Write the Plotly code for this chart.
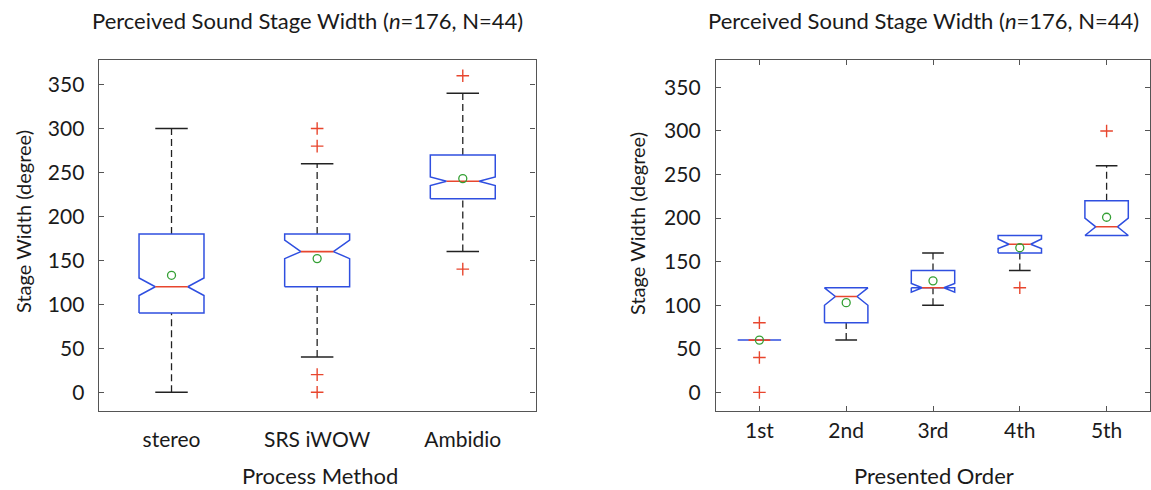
import plotly.graph_objects as go

# ---------------- data ----------------
methods = ["stereo", "SRS iWOW", "Ambidio"]
m_q1 = [90, 120, 220]
m_median = [120, 160, 240]
m_q3 = [180, 180, 270]
m_notch_lo = [110, 152, 235]
m_notch_hi = [130, 173, 245]
m_lower = [0, 40, 160]
m_upper = [300, 260, 340]
m_mean = [133, 152, 243]
m_outliers = [[], [300, 280, 20, 0], [360, 140]]

orders = ["1st", "2nd", "3rd", "4th", "5th"]
o_q1 = [60, 80, 120, 160, 180]
o_median = [60, 110, 120, 170, 190]
o_q3 = [60, 120, 140, 180, 220]
o_notch_lo = [60, 100, 115, 165, 180]
o_notch_hi = [60, 120, 125, 176, 200]
o_lower = [60, 60, 100, 140, 180]
o_upper = [60, 120, 160, 180, 260]
o_mean = [60, 103, 128, 166, 201]
o_outliers = [[80, 40, 0], [], [], [120], [300]]

y_ticks = [0, 50, 100, 150, 200, 250, 300, 350]

# ---------------- style ----------------
FONT = "Lato"
TXT = "#1a1a1a"
BLUE = "#2f4fe0"
RED = "#e8462e"
BLACK = "#222222"
GREEN = "#35a035"
FRAME = "#555555"
W, H = 1151, 490

fig = go.Figure()


def add_boxes(xa, ya, q1, med, q3, nlo, nhi, lo, up, mean, outs, hw):
    nw = hw / 2.0
    cw = hw / 2.0
    bx, by, mx, my, wx, wy, cx, cy, ox, oy, ex, ey = ([] for _ in range(12))
    for i in range(len(q1)):
        x = i + 1
        bx += [x - hw, x - hw, x - nw, x - hw, x - hw, x + hw, x + hw, x + nw, x + hw, x + hw, x - hw, None]
        by += [q1[i], nlo[i], med[i], nhi[i], q3[i], q3[i], nhi[i], med[i], nlo[i], q1[i], q1[i], None]
        mx += [x - nw, x + nw, None]
        my += [med[i], med[i], None]
        if up[i] > q3[i]:
            wx += [x, x, None]
            wy += [q3[i], up[i], None]
            cx += [x - cw, x + cw, None]
            cy += [up[i], up[i], None]
        if lo[i] < q1[i]:
            wx += [x, x, None]
            wy += [lo[i], q1[i], None]
            cx += [x - cw, x + cw, None]
            cy += [lo[i], lo[i], None]
        for v in outs[i]:
            ox.append(x)
            oy.append(v)
        ex.append(x)
        ey.append(mean[i])
    common = dict(xaxis=xa, yaxis=ya, showlegend=False, hoverinfo="skip")
    fig.add_trace(go.Scatter(x=wx, y=wy, mode="lines",
                             line=dict(color=BLACK, width=1.3, dash="7px,4px"), **common))
    fig.add_trace(go.Scatter(x=cx, y=cy, mode="lines",
                             line=dict(color=BLACK, width=1.5), **common))
    fig.add_trace(go.Scatter(x=bx, y=by, mode="lines",
                             line=dict(color=BLUE, width=1.5), **common))
    fig.add_trace(go.Scatter(x=mx, y=my, mode="lines",
                             line=dict(color=RED, width=1.6), **common))
    fig.add_trace(go.Scatter(x=ox, y=oy, mode="markers",
                             marker=dict(symbol="cross-thin", size=9,
                                         line=dict(color=RED, width=1.4)), **common))
    fig.add_trace(go.Scatter(x=ex, y=ey, mode="markers",
                             marker=dict(symbol="circle-open", size=8, color=GREEN,
                                         line=dict(color=GREEN, width=1.3)), **common))


add_boxes("x", "y", m_q1, m_median, m_q3, m_notch_lo, m_notch_hi, m_lower, m_upper,
          m_mean, m_outliers, 0.223)
add_boxes("x2", "y2", o_q1, o_median, o_q3, o_notch_lo, o_notch_hi, o_lower, o_upper,
          o_mean, o_outliers, 0.25)

y_top = 1 - 59.5 / H
y_bot = 1 - 410.7 / H

axis_common = dict(showline=True, linecolor=FRAME, linewidth=1.3, mirror="ticks",
                   showgrid=False, zeroline=False, ticklen=5, tickwidth=1.1,
                   tickcolor=FRAME, tickfont=dict(family=FONT, size=21, color=TXT))

fig.update_layout(
    width=W, height=H,
    margin=dict(l=0, r=0, t=0, b=0),
    paper_bgcolor="white", plot_bgcolor="white",
    font=dict(family=FONT, color=TXT),
    xaxis=dict(domain=[98.7 / W, 535.6 / W], range=[0.5, 3.5],
               tickvals=[1, 2, 3], ticktext=methods, ticks="",
               ticklabelstandoff=10, **axis_common),
    yaxis=dict(domain=[y_bot, y_top], range=[-21, 378.5], tickvals=y_ticks,
               ticks="inside", ticklabelstandoff=9, anchor="x", **axis_common),
    xaxis2=dict(domain=[716 / W, 1150 / W], range=[0.5, 5.5],
                tickvals=[1, 2, 3, 4, 5], ticktext=orders, ticks="inside",
                ticklabelstandoff=1, anchor="y2", **axis_common),
    yaxis2=dict(domain=[y_bot, y_top], range=[-21, 382], tickvals=y_ticks,
                ticks="inside", ticklabelstandoff=10, anchor="x2", **axis_common),
)

title_txt = "Perceived Sound Stage Width (<i>n</i>=176, N=44)"
ann = [
    dict(text=title_txt, x=307 / W, y=1 - 20 / H, size=22),
    dict(text=title_txt, x=923 / W, y=1 - 20 / H, size=22),
    dict(text="Process Method", x=320 / W, y=1 - 475 / H, size=22),
    dict(text="Presented Order", x=934 / W, y=1 - 475 / H, size=22),
]
for a in ann:
    fig.add_annotation(text=a["text"], x=a["x"], y=a["y"], xref="paper", yref="paper",
                       xanchor="center", yanchor="middle", showarrow=False,
                       font=dict(family=FONT, size=a["size"], color=TXT))
for xp, yp in [(23, 222), (637, 223)]:
    fig.add_annotation(text="Stage Width (degree)", x=xp / W, y=1 - yp / H,
                       xref="paper", yref="paper", xanchor="center", yanchor="middle",
                       textangle=-90, showarrow=False,
                       font=dict(family=FONT, size=20, color=TXT))

fig.write_html("out.html", config={"displayModeBar": False},
               post_script="document.body.style.margin='0';document.body.style.overflow='hidden';")
